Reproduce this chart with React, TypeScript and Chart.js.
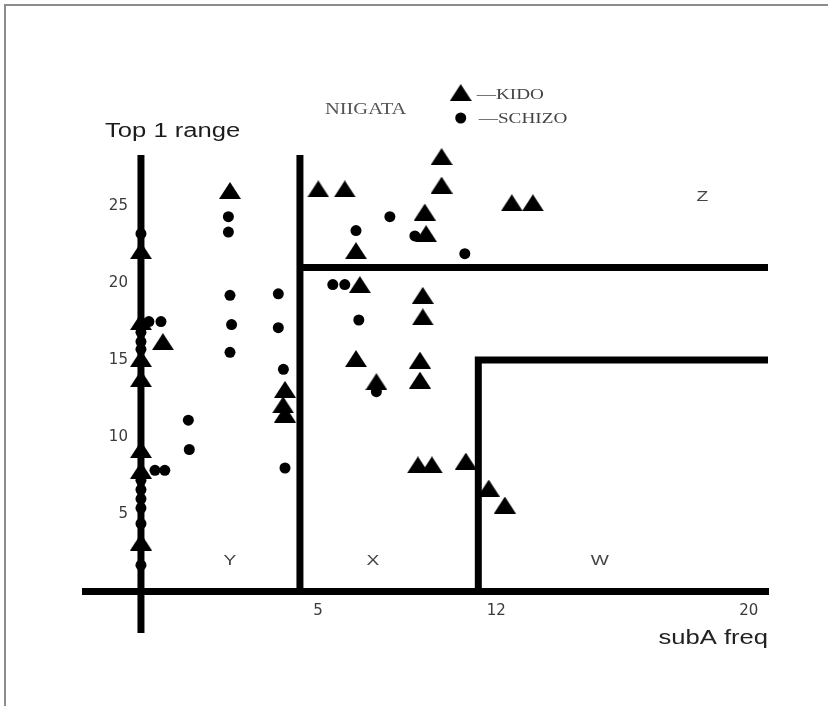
import React, { useEffect, useRef } from 'react';
import { Chart, registerables, LinearScale } from 'chart.js';

Chart.register(...registerables);

// ---------------- data ----------------
const kidoFreq = [
  0, 0, 0, 0, 0, 0, 0, 0.69, 2.8, 4.53, 4.47, 4.53, 5.72, 6.76, 10.56, 10.56,
  13.06, 13.73, 9.9, 9.95, 7.2, 7.35, 9.82, 9.82, 7.2, 8.0, 9.71, 9.71, 9.63,
  10.18, 11.51, 12.33, 12.84,
];
const kidoRange = [
  22.1, 17.5, 15.1, 13.8, 9.2, 7.85, 3.2, 16.2, 26.0, 13.1, 12.1, 11.5, 26.1,
  26.1, 28.2, 26.35, 25.2, 25.2, 24.6, 23.2, 22.1, 19.9, 19.2, 17.8, 15.1, 13.6,
  15.0, 13.7, 8.2, 8.2, 8.45, 6.7, 5.6,
];
const schizoFreq = [
  0, 0, 0, 0, 0, 0, 0, 0, 0, 0, 0.25, 0.63, 0.44, 0.75, 2.75, 2.75, 2.8, 2.85,
  2.8, 4.32, 4.32, 4.48, 4.53, 1.49, 1.52, 8.53, 7.2, 9.51, 11.47, 6.29, 6.76,
  7.31, 8.0,
];
const schizoRange = [
  23.2, 16.8, 16.2, 15.7, 7.2, 6.6, 6.0, 5.4, 4.4, 1.7, 17.5, 17.5, 7.85, 7.85,
  24.3, 23.3, 19.2, 17.3, 15.5, 19.3, 17.1, 14.4, 8.0, 11.1, 9.2, 24.3, 23.4,
  23.05, 21.9, 19.9, 19.9, 17.6, 12.95,
];

const seriesNames = ['KIDO', 'SCHIZO'];

const xTickValues = [5, 12, 20];
const xTickLabels = ['5', '12', '20'];
const yTickValues = [5, 10, 15, 20, 25];
const yTickLabels = ['5', '10', '15', '20', '25'];

// region boundaries
const freqCutLow = 5;
const freqCutHigh = 12;
const rangeCutHigh = 21;
const rangeCutLow = 15;

const regionNames = ['Y', 'X', 'W', 'Z'];
const regionFreq = [2.8, 7.86, 15.85, 19.1];
const regionRange = [2.0, 2.0, 2.0, 25.6];

// axis extents
const X_MIN = -1.76;
const X_MAX = 21.18;
const Y_MIN = -2.7;
const Y_MAX = 28.3;
// the range tick labels sit just left of the freq = 0 axis line
const Y_LABELS_AT = -0.41;

// the hand-drawn frequency axis is unevenly spaced between its labelled ticks
const warpValues = [0, 5, 12, 20];
const warpPositions = [0, 5, 10.61, 18.55];

function warp(v: number): number {
  const n = warpValues.length;
  if (v <= warpValues[1]) {
    const s = (warpPositions[1] - warpPositions[0]) / (warpValues[1] - warpValues[0]);
    return warpPositions[0] + (v - warpValues[0]) * s;
  }
  for (let i = 1; i < n - 1; i++) {
    if (v <= warpValues[i + 1]) {
      const s = (warpPositions[i + 1] - warpPositions[i]) / (warpValues[i + 1] - warpValues[i]);
      return warpPositions[i] + (v - warpValues[i]) * s;
    }
  }
  const s = (warpPositions[n - 1] - warpPositions[n - 2]) / (warpValues[n - 1] - warpValues[n - 2]);
  return warpPositions[n - 1] + (v - warpValues[n - 1]) * s;
}
function unwarp(p: number): number {
  const n = warpPositions.length;
  if (p <= warpPositions[1]) {
    const s = (warpValues[1] - warpValues[0]) / (warpPositions[1] - warpPositions[0]);
    return warpValues[0] + (p - warpPositions[0]) * s;
  }
  for (let i = 1; i < n - 1; i++) {
    if (p <= warpPositions[i + 1]) {
      const s = (warpValues[i + 1] - warpValues[i]) / (warpPositions[i + 1] - warpPositions[i]);
      return warpValues[i] + (p - warpPositions[i]) * s;
    }
  }
  const s = (warpValues[n - 1] - warpValues[n - 2]) / (warpPositions[n - 1] - warpPositions[n - 2]);
  return warpValues[n - 1] + (p - warpPositions[n - 1]) * s;
}

class WarpScale extends LinearScale {
  static id = 'warp';
  static defaults = {};
  getPixelForValue(value: any) {
    if (value === null || value === undefined || isNaN(value)) return NaN;
    const a = warp(this.min);
    const b = warp(this.max);
    return this.getPixelForDecimal((warp(value) - a) / (b - a));
  }
  getValueForPixel(pixel: number) {
    const a = warp(this.min);
    const b = warp(this.max);
    return unwarp(a + this.getDecimalForPixel(pixel) * (b - a));
  }
}
Chart.register(WarpScale as any);

const STRETCH = 1.28;

function stretchedText(
  ctx: CanvasRenderingContext2D,
  text: string,
  x: number,
  y: number,
  font: string,
  color: string,
  align: CanvasTextAlign,
  baseline: CanvasTextBaseline
) {
  ctx.save();
  ctx.translate(x, y);
  ctx.scale(STRETCH, 1);
  ctx.font = font;
  ctx.fillStyle = color;
  ctx.textAlign = align;
  ctx.textBaseline = baseline;
  ctx.fillText(text, 0, 0);
  ctx.restore();
}

function makeTriangle(w: number, h: number, color: string) {
  const c = document.createElement('canvas');
  c.width = w;
  c.height = h;
  const g = c.getContext('2d')!;
  g.fillStyle = color;
  g.beginPath();
  g.moveTo(0, h);
  g.lineTo(w / 2, 0);
  g.lineTo(w, h);
  g.closePath();
  g.fill();
  return c;
}

export default function App() {
  const ref = useRef<HTMLCanvasElement>(null);

  useEffect(() => {
    if (!ref.current) return;
    const tri = makeTriangle(22, 17, '#000');

    const annotations = {
      id: 'annotations',
      afterDatasetsDraw(chart: any) {
        const ctx: CanvasRenderingContext2D = chart.ctx;
        const xs = chart.scales.x;
        const ys = chart.scales.y;
        const px = (v: number) => xs.getPixelForValue(v);
        const py = (v: number) => ys.getPixelForValue(v);

        // region letters
        regionNames.forEach((name, i) => {
          stretchedText(ctx, name, px(regionFreq[i]), py(regionRange[i]),
            '15px "Liberation Sans"', '#444', 'center', 'middle');
        });

        // axis titles
        stretchedText(ctx, 'Top 1 range', px(-1.13), py(29.47),
          '20px "Liberation Sans"', '#1c1c1c', 'left', 'alphabetic');
        stretchedText(ctx, 'subA freq', px(X_MAX), py(-3.41),
          '20px "Liberation Sans"', '#222', 'right', 'alphabetic');

        // caption
        stretchedText(ctx, 'NIIGATA', px(5.98), py(30.96),
          '16px "Liberation Serif"', '#555', 'left', 'alphabetic');

        // legend
        const lx = px(11.31);
        const ly1 = py(32.35);
        const ly2 = py(30.7);
        ctx.drawImage(tri, lx - tri.width / 2, ly1 - tri.height / 2);
        ctx.save();
        ctx.fillStyle = '#000';
        ctx.beginPath();
        ctx.arc(lx, ly2, 5.5, 0, Math.PI * 2);
        ctx.fill();
        ctx.restore();
        const ds = chart.data.datasets;
        stretchedText(ctx, '\u2014' + ds[0].label, lx + 16, ly1 + 2.5,
          '15px "Liberation Serif"', '#444', 'left', 'middle');
        stretchedText(ctx, '\u2014' + ds[1].label, lx + 18, ly2 + 1,
          '15px "Liberation Serif"', '#444', 'left', 'middle');
      },
    };

    const kidoPts = kidoFreq.map((x, i) => ({ x, y: kidoRange[i] }));
    const schizoPts = schizoFreq.map((x, i) => ({ x, y: schizoRange[i] }));

    const lineStyle = {
      showLine: true,
      borderColor: '#000',
      borderWidth: 7,
      pointRadius: 0,
      borderJoinStyle: 'miter' as const,
      borderCapStyle: 'butt' as const,
      clip: false as any,
    };

    const chart = new Chart(ref.current, {
      type: 'scatter',
      data: {
        datasets: [
          {
            label: seriesNames[0],
            data: kidoPts,
            pointStyle: tri as any,
            pointRadius: 9,
            backgroundColor: '#000',
            borderWidth: 0,
            clip: false as any,
          },
          {
            label: seriesNames[1],
            data: schizoPts,
            pointStyle: 'circle',
            pointRadius: 5.5,
            backgroundColor: '#000',
            borderWidth: 0,
            clip: false as any,
          },
          {
            label: 'range axis',
            data: [{ x: 0, y: Y_MIN }, { x: 0, y: Y_MAX }],
            ...lineStyle,
          },
          {
            label: 'cut-low',
            data: [{ x: freqCutLow, y: 0 }, { x: freqCutLow, y: Y_MAX }],
            ...lineStyle,
          },
          {
            label: 'cut-high-range',
            data: [{ x: freqCutLow, y: rangeCutHigh }, { x: X_MAX, y: rangeCutHigh }],
            ...lineStyle,
          },
          {
            label: 'cut-high',
            data: [
              { x: freqCutHigh, y: 0 },
              { x: freqCutHigh, y: rangeCutLow },
              { x: X_MAX, y: rangeCutLow },
            ],
            ...lineStyle,
          },
        ],
      },
      options: {
        responsive: false,
        animation: false,
        events: [],
        layout: { padding: { left: 85, right: 60, top: 155, bottom: 73 } },
        plugins: {
          legend: { display: false },
          tooltip: { enabled: false },
          title: { display: false },
        },
        scales: {
          x: {
            type: 'warp' as any,
            position: { y: 0 } as any,
            min: X_MIN,
            max: X_MAX,
            bounds: 'data',
            grid: { display: false, drawTicks: false },
            border: { display: true, color: '#000', width: 7 },
            afterBuildTicks: (scale: any) => {
              scale.ticks = xTickValues.map((value) => ({ value }));
            },
            ticks: {
              autoSkip: false,
              maxRotation: 0,
              padding: 11,
              labelOffset: 18,
              color: '#3a3a3a',
              font: { family: '"DejaVu Sans"', size: 15 },
              callback: (value: any) => {
                const i = xTickValues.indexOf(Number(value));
                return i >= 0 ? xTickLabels[i] : '';
              },
            },
          } as any,
          y: {
            type: 'linear',
            position: { x: Y_LABELS_AT } as any,
            min: Y_MIN,
            max: Y_MAX,
            bounds: 'data',
            grid: { display: false, drawTicks: false },
            border: { display: false },
            afterBuildTicks: (scale: any) => {
              scale.ticks = yTickValues.map((value) => ({ value }));
            },
            ticks: {
              autoSkip: false,
              padding: 0,
              color: '#3a3a3a',
              font: { family: '"DejaVu Sans"', size: 15 },
              callback: (value: any) => {
                const i = yTickValues.indexOf(Number(value));
                return i >= 0 ? yTickLabels[i] : '';
              },
            },
          } as any,
        },
      },
      plugins: [annotations],
    });

    return () => chart.destroy();
  }, []);

  return (
    <div
      style={{
        position: 'fixed',
        left: 0,
        top: 0,
        width: 828,
        height: 706,
        background: '#fff',
        overflow: 'hidden',
      }}
    >
      <div
        style={{
          position: 'absolute',
          left: 4,
          top: 4,
          right: 0,
          bottom: 0,
          borderTop: '2px solid #8c8c8c',
          borderLeft: '2px solid #8c8c8c',
        }}
      />
      <canvas
        ref={ref}
        width={828}
        height={706}
        style={{ position: 'absolute', left: 0, top: 0, width: 828, height: 706 }}
      />
    </div>
  );
}
